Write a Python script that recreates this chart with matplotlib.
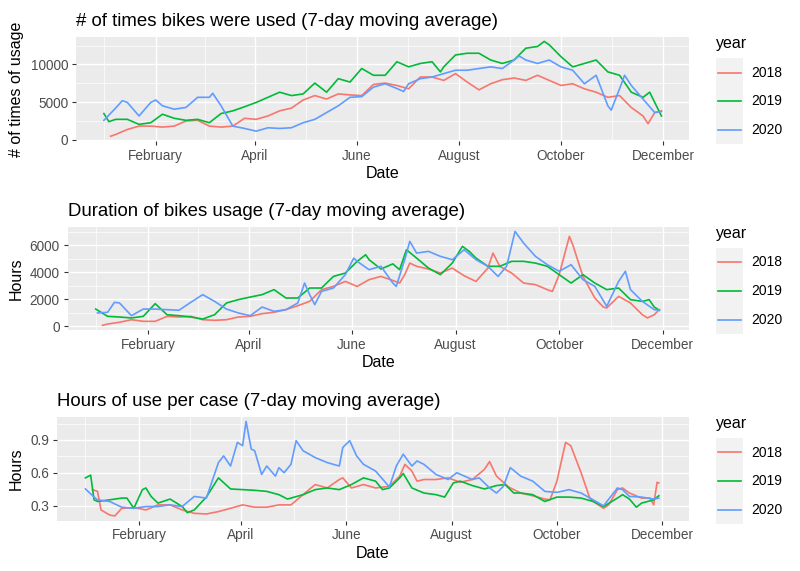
import numpy as np
import matplotlib.pyplot as plt
import matplotlib.dates as mdates
import matplotlib.transforms as mtransforms
from matplotlib.legend_handler import HandlerBase
from matplotlib.lines import Line2D
from matplotlib.patches import Rectangle

plt.rcParams['font.family'] = ['Liberation Sans', 'DejaVu Sans']

# --- data (day of year, 7-day moving average) ---
# panel 1: number of times bikes were used
use_2018_days = [5, 8, 15, 22, 29, 36, 43, 50, 57, 64, 71, 78, 85, 92, 99, 106, 113, 120, 127, 134,
                 141, 148, 155, 162, 169, 176, 183, 190, 197, 204, 211, 218, 225, 232, 239, 246, 253,
                 260, 267, 274, 281, 288, 295, 302, 309, 316, 323, 326, 330, 334]
use_2018 = [450, 680, 1350, 1800, 1800, 1670, 1800, 2480, 2570, 1800, 1670, 1800, 2840, 2700, 3150,
            3830, 4190, 5270, 5860, 5400, 6080, 5950, 5860, 7340, 7520, 7200, 6760, 8330, 8330, 7880,
            8780, 7660, 6620, 7430, 7970, 8200, 7880, 8560, 7880, 7210, 7430, 6760, 6310, 5630, 5860,
            4280, 3150, 2120, 3600, 3830]

use_2019_days = [1, 4, 8, 15, 22, 29, 36, 43, 50, 57, 64, 71, 78, 85, 92, 99, 106, 113, 120, 127, 134,
                 141, 148, 155, 162, 169, 176, 183, 190, 197, 202, 204, 211, 218, 225, 232, 239, 246,
                 253, 260, 264, 267, 274, 281, 288, 295, 302, 309, 316, 323, 327, 330, 334]
use_2019 = [3470, 2390, 2700, 2700, 2030, 2250, 3380, 2840, 2570, 2700, 2250, 3470, 3830, 4370, 4950,
            5630, 6310, 5860, 6080, 7520, 6310, 8110, 7660, 9460, 8560, 8560, 10360, 9680, 10130,
            10360, 9010, 9680, 11260, 11490, 11490, 10590, 10130, 10590, 12160, 12390, 13060, 12610,
            11040, 9680, 10130, 10590, 9010, 8560, 6310, 5630, 6310, 4950, 3150]

use_2020_days = [1, 8, 12, 15, 22, 29, 32, 36, 43, 50, 57, 64, 66, 71, 78, 85, 92, 99, 106, 113, 120,
                 127, 134, 141, 148, 155, 162, 169, 176, 180, 183, 190, 197, 204, 211, 218, 225, 232,
                 239, 246, 249, 253, 260, 267, 274, 281, 288, 295, 302, 304, 309, 312, 316, 323, 330, 334]
use_2020 = [2570, 4190, 5180, 4950, 3150, 4950, 5270, 4500, 4050, 4280, 5630, 5630, 6170, 4500, 1800,
            1490, 1130, 1580, 1490, 1580, 2250, 2700, 3600, 4500, 5630, 5720, 6980, 7430, 6800, 6400,
            7430, 8110, 8330, 8780, 9230, 9230, 9460, 9680, 9460, 10590, 11130, 10590, 10130, 10590,
            9680, 9230, 7430, 8560, 4500, 3920, 6760, 8560, 7210, 5400, 3600, 3740]

# panel 2: duration of usage (hours)
dur_2018_days = [5, 8, 15, 22, 29, 36, 43, 50, 57, 64, 71, 78, 85, 92, 99, 106, 113, 120, 127, 134,
                 141, 148, 155, 162, 169, 176, 180, 183, 186, 190, 197, 204, 211, 218, 225, 232, 235,
                 239, 246, 253, 260, 267, 270, 274, 280, 282, 288, 295, 300, 302, 309, 316, 323, 326,
                 330, 333]
dur_2018 = [75, 170, 300, 490, 370, 370, 740, 690, 740, 490, 445, 490, 690, 740, 940, 1040, 1235, 1530,
            1850, 2720, 2960, 3330, 2960, 3460, 3700, 3400, 3210, 3830, 4690, 4450, 4250, 3950, 4320,
            3750, 3330, 4320, 5430, 4450, 3950, 3210, 3090, 2720, 2590, 3830, 6670, 6050, 3700, 2100,
            1430, 1360, 2220, 1730, 860, 620, 860, 1235]

dur_2019_days = [1, 8, 15, 22, 29, 36, 43, 50, 57, 64, 71, 78, 85, 92, 99, 106, 113, 120, 127, 134,
                 141, 148, 155, 160, 162, 169, 176, 180, 184, 190, 197, 204, 211, 217, 221, 225, 232,
                 239, 246, 253, 260, 267, 274, 281, 288, 295, 302, 309, 316, 323, 327, 330, 333]
dur_2019 = [1280, 740, 690, 620, 740, 1680, 860, 790, 690, 540, 860, 1730, 1980, 2170, 2350, 2720,
            2100, 2100, 2840, 2840, 3700, 3950, 4820, 5310, 4940, 4250, 4630, 4200, 5680, 5060, 4320,
            3830, 4690, 5930, 5560, 5060, 4450, 4450, 4820, 4820, 4690, 4450, 3830, 3210, 3830, 3210,
            2720, 2840, 1980, 1850, 1980, 1430, 1190]

dur_2020_days = [2, 8, 12, 15, 22, 29, 36, 43, 50, 57, 64, 71, 78, 85, 92, 99, 106, 113, 120, 124,
                 127, 130, 134, 141, 148, 153, 155, 162, 169, 176, 178, 183, 186, 190, 197, 204, 211,
                 218, 225, 232, 238, 243, 248, 253, 260, 267, 274, 281, 288, 295, 302, 309, 313, 316,
                 323, 330, 333]
dur_2020 = [990, 1040, 1780, 1730, 790, 1280, 1280, 1235, 1190, 1780, 2350, 1850, 1280, 990, 790,
            1430, 1110, 1235, 1730, 3210, 2350, 1610, 2590, 2840, 3830, 5060, 4820, 4200, 4450, 3210,
            2960, 4940, 6300, 5430, 5560, 5190, 4940, 5680, 4940, 4450, 3700, 4450, 7040, 6180, 5190,
            4570, 4080, 4570, 3460, 2960, 1480, 3330, 4080, 2720, 1850, 1235, 1190]

# panel 3: hours of use per case
per_2018_days = [5, 8, 10, 15, 18, 22, 29, 36, 43, 50, 57, 64, 71, 78, 85, 92, 99, 106, 113, 120, 127,
                 134, 141, 148, 150, 155, 162, 169, 177, 183, 186, 190, 193, 197, 204, 211, 218, 225,
                 232, 235, 239, 246, 253, 260, 267, 270, 274, 279, 282, 288, 293, 295, 301, 304, 309,
                 312, 316, 323, 328, 330, 332, 333]
per_2018 = [0.448, 0.432, 0.263, 0.217, 0.208, 0.278, 0.285, 0.263, 0.309, 0.309, 0.263, 0.232, 0.226,
            0.248, 0.278, 0.309, 0.288, 0.288, 0.309, 0.309, 0.402, 0.494, 0.463, 0.540, 0.555, 0.463,
            0.494, 0.463, 0.478, 0.571, 0.678, 0.617, 0.525, 0.540, 0.540, 0.555, 0.515, 0.540, 0.632,
            0.703, 0.571, 0.472, 0.417, 0.392, 0.362, 0.355, 0.525, 0.878, 0.848, 0.602, 0.371, 0.340,
            0.278, 0.309, 0.448, 0.463, 0.417, 0.371, 0.371, 0.309, 0.515, 0.509]

per_2019_days = [1, 4, 6, 8, 15, 22, 25, 29, 34, 36, 39, 43, 50, 57, 60, 64, 71, 78, 85, 92, 99, 106,
                 113, 118, 120, 127, 134, 141, 148, 155, 162, 169, 173, 177, 183, 185, 190, 197, 204,
                 209, 214, 218, 225, 232, 239, 244, 249, 253, 260, 267, 274, 281, 288, 295, 301, 309,
                 312, 316, 320, 323, 330, 333]
per_2019 = [0.555, 0.580, 0.355, 0.340, 0.355, 0.371, 0.371, 0.278, 0.448, 0.463, 0.386, 0.325, 0.362,
            0.294, 0.238, 0.263, 0.380, 0.555, 0.454, 0.448, 0.442, 0.432, 0.402, 0.362, 0.371, 0.402,
            0.448, 0.463, 0.448, 0.494, 0.555, 0.525, 0.448, 0.463, 0.555, 0.595, 0.463, 0.417, 0.402,
            0.380, 0.509, 0.525, 0.485, 0.454, 0.485, 0.494, 0.417, 0.417, 0.402, 0.340, 0.380, 0.380,
            0.371, 0.340, 0.294, 0.371, 0.402, 0.362, 0.288, 0.325, 0.355, 0.392]

per_2020_days = [1, 6, 8, 15, 22, 29, 36, 43, 50, 57, 64, 71, 78, 81, 85, 89, 92, 94, 97, 99, 103, 106,
                 111, 113, 116, 120, 123, 127, 134, 141, 148, 150, 154, 158, 162, 169, 177, 181, 185,
                 190, 193, 197, 204, 211, 216, 225, 229, 235, 239, 243, 247, 253, 260, 267, 274, 281,
                 288, 295, 301, 309, 312, 316, 323, 330, 333]
per_2020 = [0.454, 0.380, 0.355, 0.340, 0.288, 0.278, 0.294, 0.294, 0.309, 0.294, 0.386, 0.371, 0.694,
            0.755, 0.663, 0.878, 0.848, 1.069, 0.817, 0.802, 0.586, 0.663, 0.571, 0.648, 0.602, 0.678,
            0.894, 0.802, 0.740, 0.694, 0.663, 0.832, 0.894, 0.755, 0.678, 0.617, 0.472, 0.663, 0.771,
            0.663, 0.709, 0.678, 0.586, 0.540, 0.602, 0.540, 0.555, 0.463, 0.417, 0.478, 0.648, 0.571,
            0.525, 0.432, 0.423, 0.448, 0.417, 0.355, 0.300, 0.463, 0.448, 0.386, 0.380, 0.362, 0.371]

years = ['2018', '2019', '2020']
colors = ['#F8766D', '#00BA38', '#619CFF']
month_breaks = ['2019-02-01', '2019-04-01', '2019-06-01', '2019-08-01', '2019-10-01', '2019-12-01']
month_labels = ['February', 'April', 'June', 'August', 'October', 'December']

BASE = np.datetime64('2019-01-01')


def to_dates(days):
    return BASE + np.array(days) - 1


class KeyHandler(HandlerBase):
    # ggplot style legend key: grey square with the line through its middle
    def create_artists(self, legend, orig_handle, xdescent, ydescent, width, height, fontsize, trans):
        bg = Rectangle((-xdescent, -ydescent), width, height, facecolor='#F2F2F2',
                       edgecolor='none', transform=trans)
        yc = -ydescent + height / 2
        pad = 0.09 * width
        line = Line2D([-xdescent + pad, -xdescent + width - pad], [yc, yc],
                      color=orig_handle.get_color(), lw=orig_handle.get_linewidth(),
                      transform=trans)
        return [bg, line]


fig = plt.figure(figsize=(8, 5.71), dpi=100)
W, H = 800, 571

panels = [
    dict(left=76, top=36.7, bottom=141,
         series=[(use_2018_days, use_2018), (use_2019_days, use_2019), (use_2020_days, use_2020)],
         title='# of times bikes were used (7-day moving average)', ylabel='# of times of usage',
         yticks=[0, 5000, 10000], yminor=[2500, 7500, 12500], fmt='{:.0f}'),
    dict(left=67.5, top=226.7, bottom=330,
         series=[(dur_2018_days, dur_2018), (dur_2019_days, dur_2019), (dur_2020_days, dur_2020)],
         title='Duration of bikes usage (7-day moving average)', ylabel='Hours',
         yticks=[0, 2000, 4000, 6000], yminor=[1000, 3000, 5000, 7000], fmt='{:.0f}'),
    dict(left=56.7, top=416.7, bottom=520.7,
         series=[(per_2018_days, per_2018), (per_2019_days, per_2019), (per_2020_days, per_2020)],
         title='Hours of use per case (7-day moving average)', ylabel='Hours',
         yticks=[0.3, 0.6, 0.9], yminor=[0.45, 0.75, 1.05], fmt='{:.1f}'),
]

major_dates = np.array(month_breaks, dtype='datetime64[D]')
major_num = mdates.date2num(major_dates)
prev_num = mdates.date2num(np.datetime64('2018-12-01'))
edges = np.concatenate([[prev_num], major_num])
minor_num = (edges[:-1] + edges[1:]) / 2

for p in panels:
    right = 689.3
    ax = fig.add_axes([p['left'] / W, 1 - p['bottom'] / H, (right - p['left']) / W,
                       (p['bottom'] - p['top']) / H])
    ax.set_facecolor('#EBEBEB')
    allv = []
    for (days, vals), yr, col in zip(p['series'], years, colors):
        ax.plot(to_dates(days), vals, color=col, lw=1.2, label=yr)
        allv += vals

    # ggplot-like 5% expansion
    x0 = mdates.date2num(BASE)
    x1 = mdates.date2num(np.datetime64('2019-11-30'))
    dx = (x1 - x0) * 0.05
    ax.set_xlim(x0 - dx, x1 + dx)
    lo, hi = min(allv), max(allv)
    dy = (hi - lo) * 0.05
    ax.set_ylim(lo - dy, hi + dy)

    ax.set_xticks(major_num)
    ax.set_xticklabels(month_labels)
    ax.set_xticks(minor_num, minor=True)
    ax.set_yticks(p['yticks'])
    ax.set_yticklabels([p['fmt'].format(v) for v in p['yticks']])
    ax.set_yticks(p['yminor'], minor=True)

    ax.grid(which='major', color='white', lw=1.0)
    ax.grid(which='minor', color='white', lw=0.5)
    ax.set_axisbelow(True)
    for s in ax.spines.values():
        s.set_visible(False)
    ax.tick_params(which='major', length=3, width=0.8, color='#333333', labelcolor='#4D4D4D',
                   labelsize=9.8, pad=2.5)
    ax.tick_params(which='minor', length=0)

    ax.set_title(p['title'], loc='left', fontsize=13.4, pad=8)
    ax.set_xlabel('Date', fontsize=11.5, labelpad=2.5)
    ax.set_ylabel(p['ylabel'], fontsize=11.5)
    ax.yaxis.set_label_coords(16.5 / W, 0.5,
                              transform=mtransforms.blended_transform_factory(fig.transFigure,
                                                                              ax.transAxes))
    ax.yaxis.label.set_va('center')

    mid = 1 - ((p['top'] + p['bottom']) / 2 + 1.5) / H
    leg = ax.legend(title='year', loc='center left', bbox_to_anchor=(716 / W, mid),
                    bbox_transform=fig.transFigure, frameon=False, fontsize=10,
                    title_fontsize=11.5, handler_map={Line2D: KeyHandler()},
                    handlelength=1.95, handleheight=2.8, labelspacing=0, handletextpad=0.6,
                    borderpad=0, borderaxespad=0, alignment='left')
    leg._legend_box.sep = 5

fig.savefig('out.png', dpi=100)
